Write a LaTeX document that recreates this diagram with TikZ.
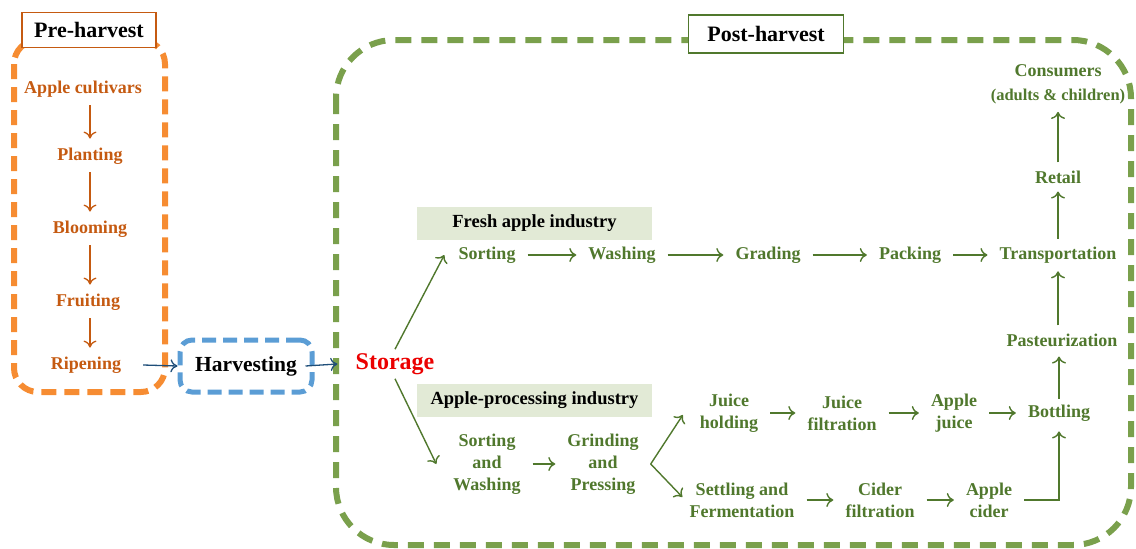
\documentclass[tikz,border=0pt]{standalone}
\usepackage{fontspec}
\setmainfont{Liberation Serif}
\usetikzlibrary{arrows.meta}

\definecolor{preDash}{RGB}{246,140,50}
\definecolor{preText}{RGB}{197,90,17}
\definecolor{postDash}{RGB}{122,160,76}
\definecolor{postText}{RGB}{80,120,45}
\definecolor{bandFill}{RGB}{226,234,214}
\definecolor{harvDash}{RGB}{91,157,213}
\definecolor{linkBlue}{RGB}{31,78,121}
\definecolor{storeRed}{RGB}{235,0,0}

\tikzset{
  prestep/.style={text=preText, font=\bfseries\fontsize{18}{21}\selectfont, inner sep=3pt},
  poststep/.style={text=postText, font=\bfseries\fontsize{18}{22}\selectfont,
    align=center, inner xsep=12pt, inner ysep=4pt},
  band/.style={fill=bandFill, minimum width=235pt, minimum height=33pt, inner sep=0pt,
    font=\bfseries\fontsize{18.5}{22}\selectfont},
  phase/.style={fill=white, line width=1.2pt, inner sep=0pt,
    font=\bfseries\fontsize{22}{24}\selectfont},
  prearrow/.style={draw=preText, line width=1.3pt, -{To[length=7pt,width=13pt]},
    shorten <=5pt, shorten >=6pt},
  postarrow/.style={draw=postText, line width=1.4pt, -{To[length=7pt,width=14pt]}},
  bluearrow/.style={draw=linkBlue, line width=1.3pt, -{To[length=7pt,width=13pt]}},
}

\begin{document}
\begin{tikzpicture}[x=1pt, y=-1pt]
\useasboundingbox (0,0) rectangle (1136,549);

% ---- group frames ----
\draw[preDash, line width=6pt, dash pattern=on 15pt off 8pt, rounded corners=24pt]
  (14,40) rectangle (165,392);
\draw[postDash, line width=6pt, dash pattern=on 16pt off 10pt, rounded corners=58pt]
  (336,40) rectangle (1131,545);

\node[phase, draw=preText, minimum width=134pt, minimum height=35pt] (preLbl) at (89,30) {Pre-harvest};
\node[phase, draw=postText, minimum width=155pt, minimum height=38pt] (postLbl) at (766,34) {Post-harvest};

% ---- pre-harvest chain ----
\node[prestep] (cult)  at (83,89)  {Apple cultivars};
\node[prestep] (plant) at (90,156) {Planting};
\node[prestep] (bloom) at (90,229) {Blooming};
\node[prestep] (fruit) at (88,302) {Fruiting};
\node[prestep] (ripen) at (86,365) {Ripening};

\draw[prearrow] (cult.south -| plant) -- (plant.north);
\draw[prearrow] (plant.south) -- (bloom.north);
\draw[prearrow] (bloom.south) -- (fruit.north -| bloom);
\draw[prearrow] (fruit.south -| bloom) -- (ripen.north -| bloom);

% ---- harvesting and storage ----
\node[draw=harvDash, line width=5pt, dash pattern=on 14pt off 7pt, rounded corners=12pt,
  minimum width=132pt, minimum height=52pt, inner sep=0pt,
  font=\bfseries\fontsize{21.5}{24}\selectfont] (harv) at (246,366) {Harvesting};
\node[text=storeRed, font=\bfseries\fontsize{24}{26}\selectfont, inner sep=4pt] (store) at (395,364) {Storage};

\draw[bluearrow] ([shift={(19,0)}]ripen.east) -- (harv.west);
\draw[bluearrow] ([shift={(-9,0)}]harv.east) -- ([shift={(-14,0)}]store.west);

% ---- industry bands ----
\node[band] (fresh) at (534.5,223.5) {Fresh apple industry};
\node[band] (proc)  at (534.5,400)   {Apple-processing industry};

% ---- fresh apple line ----
\node[poststep] (sortF)  at (487,255)  {Sorting};
\node[poststep] (wash)   at (622,255)  {Washing};
\node[poststep] (grade)  at (768,255)  {Grading};
\node[poststep] (pack)   at (910,255)  {Packing};
\node[poststep] (transp) at (1058,255) {Transportation};

\draw[postarrow] (store.north) -- ([shift={(-2,0)}]sortF.west);
\draw[postarrow] (sortF) -- (wash);
\draw[postarrow] (wash) -- (grade);
\draw[postarrow] (grade) -- (pack);
\draw[postarrow] (pack) -- (transp);

% ---- processing line ----
\node[poststep] (sortP)  at (487,464) {Sorting\\and\\Washing};
\node[poststep] (grind)  at (603,464) {Grinding\\and\\Pressing};
\node[poststep] (juiceH) at (729,413) {Juice\\holding};
\node[poststep] (juiceF) at (842,413) {Juice\\filtration};
\node[poststep] (ajuice) at (954,413) {Apple\\juice};
\node[poststep] (bottl)  at (1059,413) {Bottling};
\node[poststep] (settle) at (742,500) {Settling and\\Fermentation};
\node[poststep] (ciderF) at (880,500) {Cider\\filtration};
\node[poststep] (acider) at (989,500) {Apple\\cider};

\draw[postarrow] (store.south) -- ([shift={(-5,0)}]sortP.west);
\draw[postarrow] (sortP) -- (grind);
\draw[postarrow] (grind.east) -- ([shift={(-5,2)}]juiceH.west);
\draw[postarrow] (grind.east) -- ([shift={(5,-3)}]settle.west);
\draw[postarrow] (juiceH) -- (juiceF);
\draw[postarrow] (juiceF) -- (ajuice);
\draw[postarrow] (ajuice) -- (bottl);
\draw[postarrow] (settle) -- (ciderF);
\draw[postarrow] (ciderF) -- (acider);
\draw[postarrow, shorten >=6pt] (acider.east) -| (bottl.south);

% ---- to the consumer ----
\node[poststep] (past)   at (1062,340) {Pasteurization};
\node[poststep] (retail) at (1058,177) {Retail};
\node[poststep, font=\bfseries\fontsize{18}{24}\selectfont] (cons) at (1058,84)
  {Consumers\\{\fontsize{16.5}{24}\selectfont(adults \& children)}};

\draw[postarrow, shorten <=2pt, shorten >=6pt] (bottl.north) -- (past.south -| bottl);
\draw[postarrow, shorten <=4pt, shorten >=4pt] (past.north -| transp) -- (transp.south);
\draw[postarrow, shorten <=4pt, shorten >=4pt] (transp.north) -- (retail.south);
\draw[postarrow, shorten <=4pt, shorten >=4pt] (retail.north) -- (cons.south);
\end{tikzpicture}
\end{document}
